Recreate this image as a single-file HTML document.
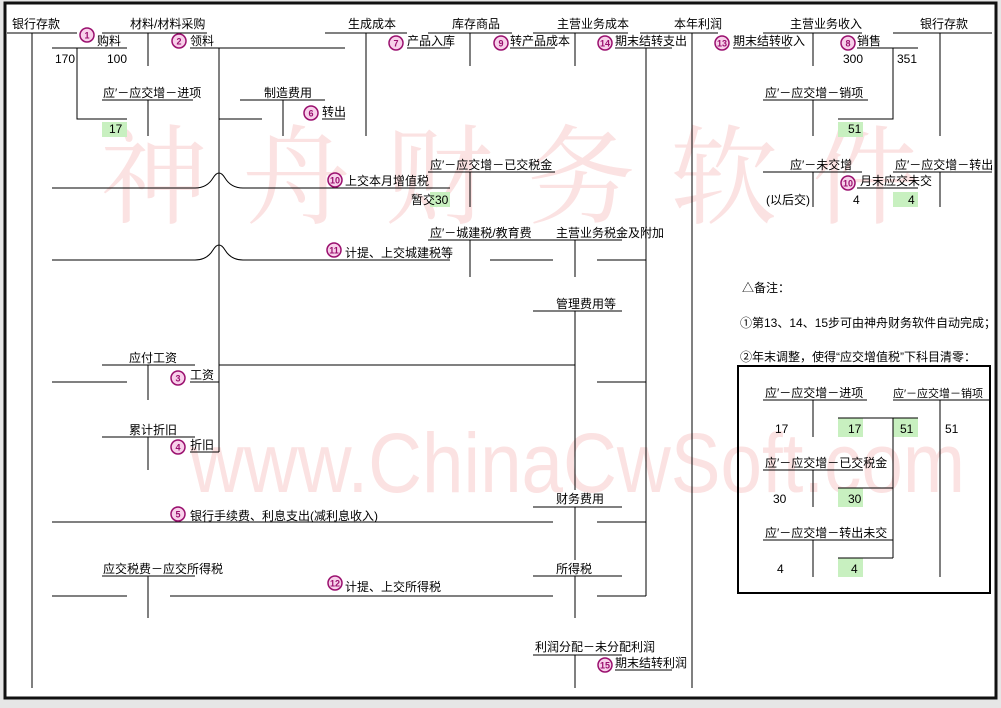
<!DOCTYPE html>
<html><head><meta charset="utf-8"><style>
html,body{margin:0;padding:0;background:#e6e6e6;}
svg{display:block;}
text{font-family:"Liberation Sans","Noto Sans CJK SC",sans-serif;font-size:12px;fill:#000;}
.n{font-size:9px;font-weight:bold;fill:#9a0f6e;text-anchor:middle}
</style></head><body>
<svg width="1001" height="708" viewBox="0 0 1001 708" xmlns="http://www.w3.org/2000/svg">
<rect x="5" y="3" width="991" height="695" fill="#fff" stroke="#111" stroke-width="3"/>
<text x="100" y="215" textLength="820" lengthAdjust="spacing" style="font-family:'Noto Serif CJK SC',serif;font-size:108px;fill:#fbe2e2">神舟财务软件</text>
<text x="190" y="492" textLength="775" lengthAdjust="spacingAndGlyphs" style="font-family:'Liberation Sans',sans-serif;font-size:84px;fill:#fbe2e2">www.ChinaCwSoft.com</text>
<g fill="#c8f0c0">
<rect x="102" y="122" width="25" height="15"/><rect x="838" y="122" width="25" height="15"/>
<rect x="430" y="192" width="20" height="15"/><rect x="893" y="192" width="25" height="15"/>
<rect x="838" y="418" width="25" height="19"/><rect x="893" y="418" width="25" height="19"/>
<rect x="838" y="488" width="25" height="19"/><rect x="838" y="558" width="25" height="19"/>
</g>
<g stroke="#000" stroke-width="1" fill="none">
<path d="M7 33H77M32 33V688"/>
<path d="M102 33H207M148 33V66M52 48H127M77 48V119H127M102 100H193M148 100V136"/>
<path d="M190 48H345M219 48V452M219 119H262M240 100H325M283 100V136M322 119H345"/>
<path d="M325 33H407M366 33V136M407 48H450M428 33H512M470 33V66M510 48H555M533 33H628M575 33V66"/>
<path d="M615 48H672M646 48V596M640 33H718M692 33V688M733 48H790M763 33H862M813 33V66"/>
<path d="M857 48H918M893 48V119H838M893 33H992M940 33V136M763 100H868M813 100V136"/>
<path d="M763 172H862M813 172V207M893 172H992M940 172V207M857 188H918"/>
<path d="M52 188H195Q207 188 213 178Q219 168 225 178Q231 188 243 188H450M345 188H428"/>
<path d="M428 172H555M470 172V207"/>
<path d="M52 260H195Q207 260 213 250Q219 240 225 250Q231 260 243 260H450"/>
<path d="M428 240H540M470 240V277M533 240H622M575 240V277M490 260H553M597 260H646"/>
<path d="M533 311H622M575 311V490"/>
<path d="M102 365H195M148 365V400M219 365H575M52 382H127M190 382H219M597 382H646"/>
<path d="M102 437H195M148 437V470M190 452H219"/>
<path d="M52 522H553M533 507H622M575 507V560M597 522H646"/>
<path d="M102 576H195M148 576V618M52 596H127M170 596H553M533 576H622M575 576V618M597 596H646"/>
<path d="M533 655H622M575 655V688M615 670H672"/>
</g>
<rect x="738" y="366" width="252" height="227" fill="none" stroke="#000" stroke-width="2"/>
<g stroke="#000" stroke-width="1" fill="none">
<path d="M763 400H867M813 400V437M838 418H918M893 418V558M893 400H990M940 400V577"/>
<path d="M763 470H863M813 470V507M838 488H893"/>
<path d="M763 540H893M813 540V577M838 558H893"/>
</g>
<g>
<text x="12" y="28">银行存款</text>
<text x="130" y="28">材料/材料采购</text>
<text x="97" y="45">购料</text>
<text x="55" y="63">170</text><text x="107" y="63">100</text>
<text x="103" y="97">应′－应交增－进项</text>
<text x="109" y="133">17</text>
<text x="190" y="45">领料</text>
<text x="264" y="97">制造费用</text>
<text x="322" y="116">转出</text>
<text x="348" y="28">生成成本</text>
<text x="407" y="45">产品入库</text>
<text x="452" y="28">库存商品</text>
<text x="510" y="45">转产品成本</text>
<text x="557" y="28">主营业务成本</text>
<text x="615" y="45">期末结转支出</text>
<text x="674" y="28">本年利润</text>
<text x="733" y="45">期末结转收入</text>
<text x="790" y="28">主营业务收入</text>
<text x="857" y="45">销售</text>
<text x="843" y="63">300</text><text x="897" y="63">351</text>
<text x="920" y="28">银行存款</text>
<text x="765" y="97">应′－应交增－销项</text>
<text x="848" y="133">51</text>
<text x="790" y="169">应′－未交增</text>
<text x="895" y="169">应′－应交增－转出</text>
<text x="860" y="185">月末应交未交</text>
<text x="766" y="204">(以后交)</text><text x="853" y="204">4</text><text x="908" y="204">4</text>
<text x="345" y="185">上交本月增值税</text>
<text x="411" y="204">暂交30</text>
<text x="430" y="169">应′－应交增－已交税金</text>
<text x="345" y="257">计提、上交城建税等</text>
<text x="430" y="237">应′－城建税/教育费</text>
<text x="556" y="237">主营业务税金及附加</text>
<text x="556" y="308">管理费用等</text>
<text x="129" y="362">应付工资</text>
<text x="190" y="379">工资</text>
<text x="129" y="434">累计折旧</text>
<text x="190" y="449">折旧</text>
<text x="190" y="520">银行手续费、利息支出(减利息收入)</text>
<text x="556" y="503">财务费用</text>
<text x="103" y="573">应交税费－应交所得税</text>
<text x="345" y="591">计提、上交所得税</text>
<text x="556" y="573">所得税</text>
<text x="535" y="651">利润分配－未分配利润</text>
<text x="615" y="667">期末结转利润</text>
<text x="742" y="292">△备注：</text>
<text x="740" y="327">①第13、14、15步可由神舟财务软件自动完成；</text>
<text x="740" y="361">②年末调整，使得“应交增值税”下科目清零：</text>
<text x="765" y="397">应′－应交增－进项</text>
<text x="893" y="397" style="font-size:11px">应′－应交增－销项</text>
<text x="775" y="433">17</text><text x="848" y="433">17</text><text x="900" y="433">51</text><text x="945" y="433">51</text>
<text x="765" y="467">应′－应交增－已交税金</text>
<text x="773" y="503">30</text><text x="848" y="503">30</text>
<text x="765" y="537">应′－应交增－转出未交</text>
<text x="777" y="573">4</text><text x="851" y="573">4</text>
</g>
<g fill="#f8d0ea" stroke="#9a0f6e" stroke-width="1.5">
<circle cx="87" cy="35" r="7"/><circle cx="179" cy="41" r="7"/><circle cx="311" cy="113" r="7"/>
<circle cx="396" cy="43" r="7"/><circle cx="501" cy="43" r="7"/><circle cx="605" cy="43" r="7"/>
<circle cx="722" cy="43" r="7"/><circle cx="848" cy="43" r="7"/><circle cx="848" cy="183" r="7"/>
<circle cx="335" cy="180" r="7"/><circle cx="334" cy="250" r="7"/><circle cx="178" cy="378" r="7"/>
<circle cx="178" cy="447" r="7"/><circle cx="178" cy="514" r="7"/><circle cx="335" cy="583" r="7"/>
<circle cx="605" cy="665" r="7"/>
</g>
<g>
<text class="n" x="87" y="38.5">1</text><text class="n" x="179" y="44.5">2</text><text class="n" x="311" y="116.5">6</text>
<text class="n" x="396" y="46.5">7</text><text class="n" x="501" y="46.5">9</text><text class="n" x="605" y="46.5">14</text>
<text class="n" x="722" y="46.5">13</text><text class="n" x="848" y="46.5">8</text><text class="n" x="848" y="186.5">10</text>
<text class="n" x="335" y="183.5">10</text><text class="n" x="334" y="253.5">11</text><text class="n" x="178" y="381.5">3</text>
<text class="n" x="178" y="450.5">4</text><text class="n" x="178" y="517.5">5</text><text class="n" x="335" y="586.5">12</text>
<text class="n" x="605" y="668.5">15</text>
</g>
</svg>
</body></html>
